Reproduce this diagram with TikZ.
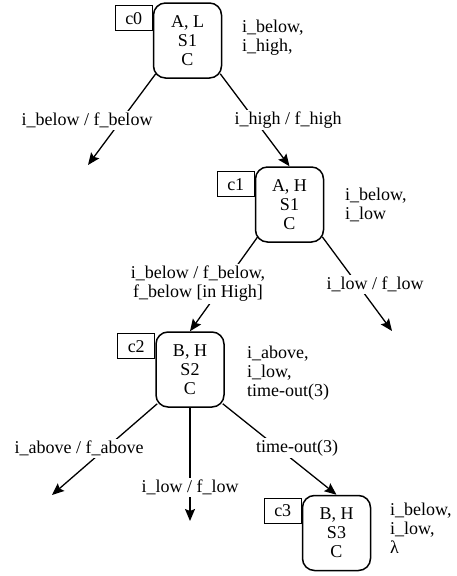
\documentclass[tikz,border=0pt]{standalone}
\usepackage{fontspec}
\setmainfont{Liberation Serif}
\usetikzlibrary{arrows.meta,calc}
\begin{document}
\begin{tikzpicture}[x=1pt,y=-1pt,
  every node/.style={font=\fontsize{18}{19}\selectfont},
  state/.style={draw, line width=1.5pt, rounded corners=12pt,
    minimum width=68pt, minimum height=75pt, align=center, inner sep=2pt},
  tag/.style={draw, line width=1pt, minimum width=37pt, minimum height=25pt,
    inner sep=0pt, anchor=north east},
  enab/.style={align=left, anchor=north west, inner sep=0pt},
  lbl/.style={fill=white, inner sep=2pt, align=center},
  conn/.style={line width=1.3pt, -{Stealth[length=12pt,width=10pt,inset=2pt]}},
]
\useasboundingbox (0,0) rectangle (456,576);

% configurations
\node[state] (n0) at (187.5,40.5) {A, L\\S1\\C};
\node[state] (n1) at (289.5,204.5) {A, H\\S1\\C};
\node[state] (n2) at (190,369.5) {B, H\\S2\\C};
\node[state] (n3) at (336.5,533) {B, H\\S3\\C};

% configuration tags
\node[tag] (t0) at ([yshift=-3pt]n0.north west) {c0};
\node[tag] (t1) at ([yshift=-5pt]n1.north west) {c1};
\node[tag] (t2) at ([yshift=-2pt]n2.north west) {c2};
\node[tag] (t3) at ([yshift=-3pt]n3.north west) {c3};

% enabled events
\node[enab] (e0) at (242,20) {i\_below,\\i\_high,};
\node[enab] (e1) at (345,188) {i\_below,\\i\_low};
\node[enab] (e2) at (247,346) {i\_above,\\i\_low,\\time-out(3)};
\node[enab] (e3) at (390,503) {i\_below,\\i\_low,\\λ};

% open ends of transitions
\coordinate (a0) at (88,165);
\coordinate (a1) at (392,331);
\coordinate (a2) at (52,495);
\coordinate (a3) at (190,521);

% transitions
\draw[conn] ([shift={(3pt,5pt)}]n0.south west) -- (a0);
\draw[conn] ([shift={(-2pt,5pt)}]n0.south east) -- (n1.north);
\draw[conn] ([shift={(3pt,6pt)}]n1.south west) -- (n2.north);
\draw[conn] ([shift={(-2pt,6pt)}]n1.south east) -- (a1);
\draw[conn] ([shift={(2pt,4pt)}]n2.south west) -- (a2);
\draw[conn] (n2.south) -- (a3);
\draw[conn] ([shift={(-2pt,4pt)}]n2.south east) -- (n3.north);

% transition labels
\node[lbl] (m0) at (87,120) {i\_below / f\_below};
\node[lbl] (m1) at (288,120) {i\_high / f\_high};
\node[lbl] (m2) at (198,284) {i\_below / f\_below,\\f\_below [in High]};
\node[lbl] (m3) at (375,284) {i\_low / f\_low};
\node[lbl] (m4) at (79,448) {i\_above / f\_above};
\node[lbl] (m5) at (190,487) {i\_low / f\_low};
\node[lbl] (m6) at (297,448) {time-out(3)};
\end{tikzpicture}
\end{document}
